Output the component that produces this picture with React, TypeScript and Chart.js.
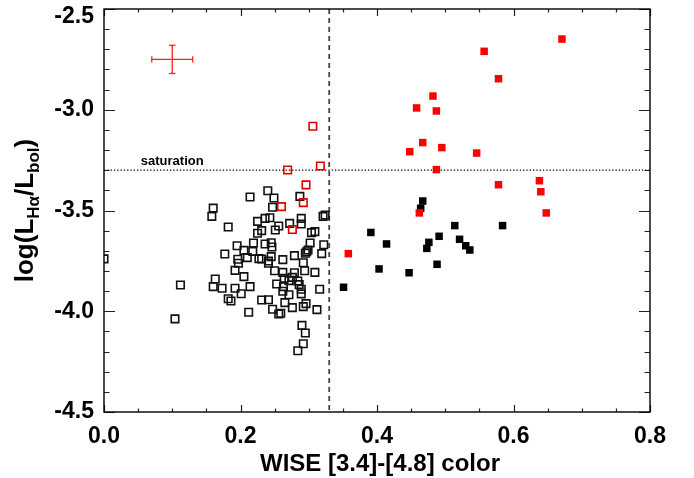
import React, { useEffect, useRef } from 'react';
import { Chart, registerables } from 'chart.js';

Chart.register(...registerables);

// ---- Data ----
const openBlackX = [
  0.000, 0.214, 0.240, 0.249, 0.287, 0.160, 0.158, 0.247, 0.182, 0.225,
  0.236, 0.243, 0.256, 0.251, 0.231, 0.225, 0.272, 0.289, 0.289, 0.321,
  0.324, 0.304, 0.309, 0.302, 0.322, 0.195, 0.205, 0.219, 0.236, 0.245,
  0.246, 0.218, 0.177, 0.196, 0.197, 0.210, 0.227, 0.231, 0.241, 0.245,
  0.241, 0.262, 0.279, 0.295, 0.297, 0.299, 0.292, 0.319, 0.192, 0.205,
  0.250, 0.262, 0.279, 0.294, 0.309, 0.163, 0.112, 0.160, 0.173, 0.192,
  0.201, 0.214, 0.253, 0.264, 0.271, 0.276, 0.284, 0.286, 0.289, 0.263,
  0.262, 0.271, 0.289, 0.316, 0.182, 0.186, 0.231, 0.241, 0.265, 0.276,
  0.292, 0.296, 0.312, 0.247, 0.212, 0.256, 0.259, 0.104, 0.290, 0.295,
  0.292, 0.284,
];
const openBlackY = [
  -3.740, -3.433, -3.402, -3.438, -3.430, -3.488, -3.529, -3.484, -3.582, -3.554,
  -3.539, -3.536, -3.577, -3.597, -3.600, -3.613, -3.564, -3.539, -3.567, -3.529,
  -3.522, -3.610, -3.605, -3.661, -3.670, -3.675, -3.698, -3.661, -3.666, -3.660,
  -3.681, -3.703, -3.716, -3.742, -3.762, -3.734, -3.739, -3.741, -3.751, -3.729,
  -3.762, -3.744, -3.724, -3.712, -3.705, -3.696, -3.759, -3.714, -3.797, -3.828,
  -3.799, -3.807, -3.809, -3.799, -3.807, -3.840, -3.870, -3.878, -3.886, -3.886,
  -3.913, -3.878, -3.865, -3.837, -3.848, -3.832, -3.850, -3.868, -3.891, -3.878,
  -3.901, -3.918, -3.914, -3.891, -3.938, -3.949, -3.944, -3.943, -3.957, -3.982,
  -3.977, -3.962, -3.992, -3.990, -4.005, -4.014, -4.010, -4.038, -4.070, -4.108,
  -4.161, -4.196,
];

const openRedX = [0.306, 0.269, 0.317, 0.296, 0.292, 0.260, 0.276];
const openRedY = [-3.082, -3.299, -3.279, -3.373, -3.461, -3.481, -3.594];

const filledBlackX = [
  0.467, 0.464, 0.514, 0.584, 0.391, 0.491, 0.521, 0.476, 0.414, 0.530,
  0.473, 0.536, 0.403, 0.488, 0.447, 0.351,
];
const filledBlackY = [
  -3.453, -3.489, -3.575, -3.575, -3.609, -3.628, -3.643, -3.658, -3.666, -3.675,
  -3.688, -3.696, -3.790, -3.767, -3.809, -3.881,
];

const filledRedX = [
  0.671, 0.557, 0.578, 0.482, 0.458, 0.487, 0.467, 0.448, 0.495, 0.546,
  0.487, 0.578, 0.638, 0.640, 0.648, 0.462, 0.358,
];
const filledRedY = [
  -2.649, -2.710, -2.846, -2.932, -2.991, -3.006, -3.163, -3.208, -3.188, -3.215,
  -3.297, -3.372, -3.352, -3.407, -3.512, -3.512, -3.714,
];

// typical error bar
const errCenter = [0.1, -2.75];
const errXHalf = 0.03;
const errYHalf = 0.07;

// reference lines
const saturationLevel = -3.3;
const colorCut = 0.33;
const saturationLabel = 'saturation';

// axes
const xMin = 0, xMax = 0.8, xStep = 0.2, xMinor = 0.05;
const yMin = -4.5, yMax = -2.5, yStep = 0.5, yMinor = 0.1;
const yTickLabels = ['-4.5', '-4.0', '-3.5', '-3.0', '-2.5'];
const xTitle = 'WISE [3.4]-[4.8] color';

const FONT = 'Liberation Sans, Arial, Helvetica, sans-serif';

const pts = (xs: number[], ys: number[]) => xs.map((x, i) => ({ x, y: ys[i] }));

const framePlugin = {
  id: 'idlFrame',
  afterDatasetsDraw(chart: any) {
    const { ctx, chartArea: a, scales } = chart;
    const xs = scales.x, ys = scales.y;
    ctx.save();
    // ticks
    ctx.strokeStyle = '#222';
    ctx.lineWidth = 1.2;
    ctx.beginPath();
    const nx = Math.round((xMax - xMin) / xMinor);
    for (let i = 0; i <= nx; i++) {
      const v = xMin + i * xMinor;
      const px = Math.round(xs.getPixelForValue(v)) + 0.5;
      const major = i % Math.round(xStep / xMinor) === 0;
      const len = major ? 7 : 3.5;
      ctx.moveTo(px, a.bottom); ctx.lineTo(px, a.bottom - len);
      ctx.moveTo(px, a.top); ctx.lineTo(px, a.top + len);
    }
    const ny = Math.round((yMax - yMin) / yMinor);
    for (let i = 0; i <= ny; i++) {
      const v = yMin + i * yMinor;
      const py = Math.round(ys.getPixelForValue(v)) + 0.5;
      const major = i % Math.round(yStep / yMinor) === 0;
      const len = major ? 11 : 5.5;
      ctx.moveTo(a.left, py); ctx.lineTo(a.left + len, py);
      ctx.moveTo(a.right, py); ctx.lineTo(a.right - len, py);
    }
    ctx.stroke();
    // frame
    ctx.strokeStyle = '#000';
    ctx.lineWidth = 1.4;
    ctx.strokeRect(a.left, a.top, a.right - a.left, a.bottom - a.top);

    // y tick labels (top one kept inside the canvas)
    ctx.fillStyle = '#000';
    ctx.font = `bold 23px ${FONT}`;
    ctx.textAlign = 'right';
    ctx.textBaseline = 'middle';
    yTickLabels.forEach((lab) => {
      const py = Math.max(ys.getPixelForValue(Number(lab)), a.top + 8);
      ctx.fillText(lab, a.left - 10, py);
    });

    // saturation label
    ctx.font = `bold 13px ${FONT}`;
    ctx.textAlign = 'center';
    ctx.textBaseline = 'alphabetic';
    ctx.fillText(saturationLabel, xs.getPixelForValue(errCenter[0]), ys.getPixelForValue(saturationLevel) - 5);

    // x title
    ctx.font = `bold 24px ${FONT}`;
    ctx.fillText(xTitle, (a.left + a.right) / 2 + 3, 471);

    // y title with subscripts
    const parts = [
      { t: 'log(L', sub: false },
      { t: 'H\u03b1', sub: true },
      { t: '/L', sub: false },
      { t: 'bol', sub: true },
      { t: ')', sub: false },
    ];
    const big = `bold 26px ${FONT}`;
    const small = `bold 17px ${FONT}`;
    let total = 0;
    const widths = parts.map((p) => {
      ctx.font = p.sub ? small : big;
      const w = ctx.measureText(p.t).width;
      total += w;
      return w;
    });
    ctx.translate(33, (a.top + a.bottom) / 2);
    ctx.rotate(-Math.PI / 2);
    ctx.textAlign = 'left';
    let x = -total / 2;
    parts.forEach((p, i) => {
      ctx.font = p.sub ? small : big;
      ctx.fillText(p.t, x, p.sub ? 6 : 0);
      x += widths[i];
    });
    ctx.restore();
  },
};

export default function App() {
  const ref = useRef<HTMLCanvasElement>(null);
  useEffect(() => {
    document.body.style.margin = '0';
    const canvas = ref.current!;
    const tickFont = { family: FONT, size: 23, weight: 'bold' as const };
    const chart = new Chart(canvas, {
      type: 'scatter',
      data: {
        datasets: [
          {
            data: pts(filledRedX, filledRedY),
            pointStyle: 'rect', pointRadius: 5.3, backgroundColor: '#ff0000', borderColor: '#ff0000', borderWidth: 0,
          },
          {
            data: pts(filledBlackX, filledBlackY),
            pointStyle: 'rect', pointRadius: 5.3, backgroundColor: '#000', borderColor: '#000', borderWidth: 0,
          },
          {
            data: pts(openRedX, openRedY),
            pointStyle: 'rect', pointRadius: 5.3, backgroundColor: 'rgba(0,0,0,0)', borderColor: '#e00000', borderWidth: 1.6,
          },
          {
            data: pts(openBlackX, openBlackY),
            pointStyle: 'rect', pointRadius: 5.3, backgroundColor: 'rgba(0,0,0,0)', borderColor: '#111', borderWidth: 1.6,
            clip: 0,
          } as any,
          {
            data: [
              { x: errCenter[0] - errXHalf, y: errCenter[1] },
              { x: errCenter[0] + errXHalf, y: errCenter[1] },
            ],
            showLine: true, borderColor: '#ff2020', borderWidth: 1.3,
            pointStyle: 'line', pointRadius: 3.2, pointRotation: 90,
            pointBorderColor: '#ff2020', pointBorderWidth: 1.3,
          },
          {
            data: [
              { x: errCenter[0], y: errCenter[1] - errYHalf },
              { x: errCenter[0], y: errCenter[1] + errYHalf },
            ],
            showLine: true, borderColor: '#ff2020', borderWidth: 1.3,
            pointStyle: 'line', pointRadius: 3.2, pointRotation: 0,
            pointBorderColor: '#ff2020', pointBorderWidth: 1.3,
          },
          {
            data: [{ x: xMin, y: saturationLevel }, { x: xMax, y: saturationLevel }],
            showLine: true, borderColor: '#000', borderWidth: 1.2, borderDash: [1.3, 2],
            pointRadius: 0,
          },
          {
            data: [{ x: colorCut, y: yMax }, { x: colorCut, y: yMin }],
            showLine: true, borderColor: '#444', borderWidth: 1.8, borderDash: [5, 4],
            pointRadius: 0,
          },
        ],
      },
      options: {
        responsive: false,
        animation: false,
        devicePixelRatio: 1,
        layout: { padding: { left: 0, right: 44, top: 9, bottom: 0 } },
        plugins: { legend: { display: false }, tooltip: { enabled: false } },
        scales: {
          x: {
            type: 'linear', min: xMin, max: xMax,
            grid: { display: false, drawTicks: false },
            border: { display: false },
            ticks: {
              stepSize: xStep, padding: 11, color: '#000', font: tickFont, maxRotation: 0,
              callback: (v: any) => Number(v).toFixed(1),
            },
            afterFit: (s: any) => { s.height = 66; s.paddingLeft = 0; s.paddingRight = 0; },
          },
          y: {
            type: 'linear', min: yMin, max: yMax,
            grid: { display: false, drawTicks: false },
            border: { display: false },
            ticks: { display: false, stepSize: yStep },
            afterFit: (s: any) => { s.width = 104; s.paddingTop = 0; s.paddingBottom = 0; },
          },
        },
      },
      plugins: [framePlugin],
    });
    return () => chart.destroy();
  }, []);
  return <canvas ref={ref} width={694} height={478} style={{ display: 'block' }} />;
}
